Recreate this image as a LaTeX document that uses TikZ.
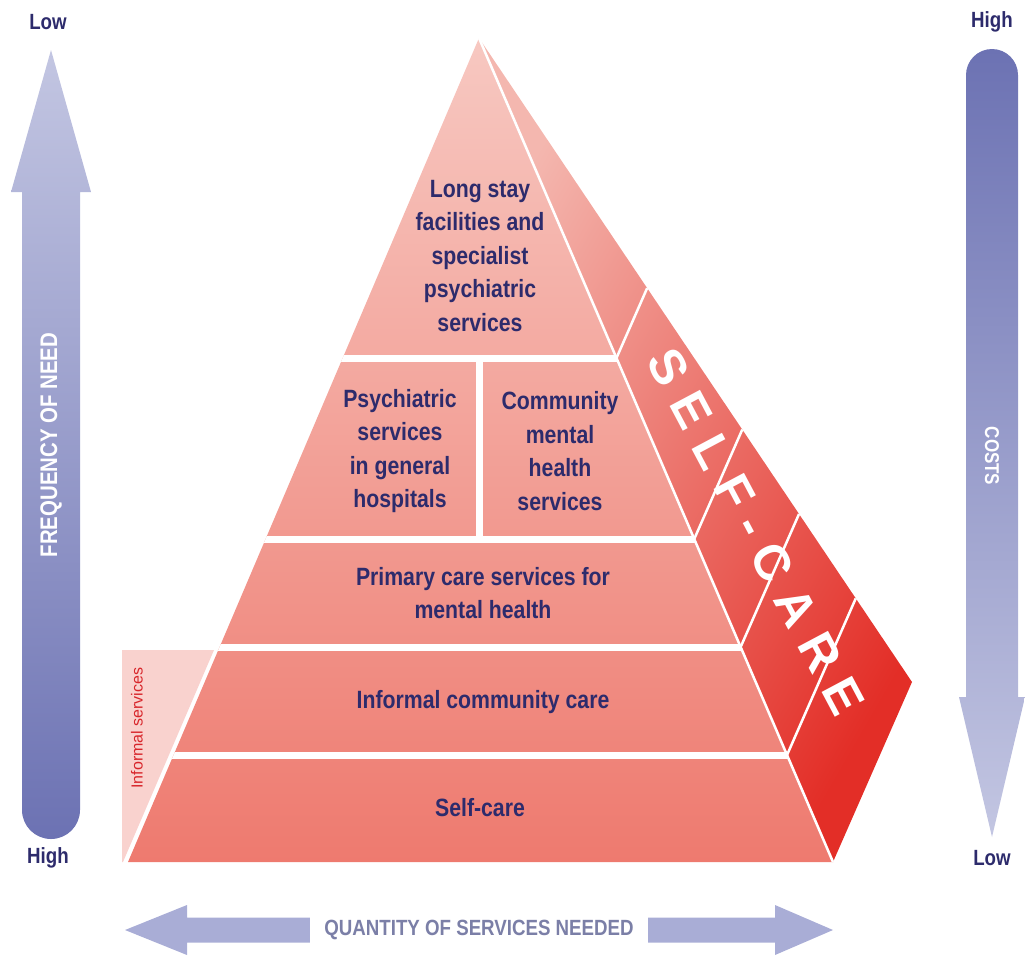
\documentclass[tikz,border=0pt]{standalone}
\usepackage{fontspec}
\setmainfont{Liberation Sans}[FakeStretch=0.85]
\newfontfamily\widesans{Liberation Sans}
\newfontfamily\spacedsans{Liberation Sans}[LetterSpace=30]
\usepackage{tikz}
\usetikzlibrary{calc}
\definecolor{navy}{HTML}{2D2B6C}
\definecolor{pyrtop}{HTML}{F7C8C1}
\definecolor{pyrbot}{HTML}{EE7A6F}
\definecolor{sidetop}{HTML}{F4B7AF}
\definecolor{sidered}{HTML}{E32E27}
\definecolor{informalbg}{HTML}{F9D2CE}
\definecolor{informaltext}{HTML}{D8262B}
\definecolor{arrowlight}{HTML}{C3C6E2}
\definecolor{arrowdark}{HTML}{6C72B3}
\definecolor{arrowmid}{HTML}{A9ADD6}
\definecolor{axistext}{HTML}{7B7FA7}
\tikzset{
  layertext/.style={text=navy,font=\fontsize{25}{33.5}\selectfont\bfseries,align=center},
  endlabel/.style={text=navy,font=\fontsize{22}{24}\selectfont\bfseries},
  axislabel/.style={text=white,font=\fontsize{24}{26}\selectfont\bfseries},
  gapline/.style={white,line width=7pt},
  edgeline/.style={white,line width=2.5pt},
  sidetext/.style={text=white,font=\spacedsans\fontsize{50}{50}\selectfont\bfseries,rotate=-62,inner sep=0pt}
}
\begin{document}
\begin{tikzpicture}[x=1pt,y=-1pt]
\useasboundingbox (0,0) rectangle (1025,956);
% informal services strip
\fill[informalbg] (122,650) -- (214,650) -- (123,862) -- (122,862) -- cycle;
\node[rotate=90,text=informaltext,font=\widesans\fontsize{16}{16}\selectfont] (informal) at (137,728) {Informal services};
% pyramid
\coordinate (apex) at (479,38);
\coordinate (baseL) at (128,862);
\coordinate (baseR) at (833,862);
\coordinate (back) at (912,682);
\shade[top color=pyrtop,bottom color=pyrbot] (apex) -- (baseR) -- (baseL) -- cycle;
\shade[top color=sidetop,bottom color=sidered,shading angle=60] (apex) -- (back) -- (baseR) -- cycle;
\begin{scope}
  \clip (apex) -- (baseR) -- (baseL) -- cycle;
  \foreach \y in {358,539,647,755}
    \draw[gapline] (100,\y) -- (900,\y);
  \draw[gapline] (479.5,358) -- (479.5,539);
\end{scope}
\foreach \y in {358,539,647,755}
  \draw[edgeline] ($(apex)!{(\y-38)/824}!(baseR)$) -- ($(apex)!{(\y-38)/824}!(back)$);
\draw[edgeline] (apex) -- (baseR);
\node[layertext] (longstay) at (480,256) {Long stay\\facilities and\\specialist\\psychiatric\\services};
\node[layertext] (psychiatric) at (400,451) {Psychiatric\\services\\in general\\hospitals};
\node[layertext] (community) at (560,451) {Community\\mental\\health\\services};
\node[layertext] (primary) at (483,593) {Primary care services for\\mental health};
\node[layertext] (informalcare) at (483,702) {Informal community care};
\node[layertext] (selfcare) at (480,808) {Self-care};
\node[sidetext] (selfcareside) at (756,532) {SELF-CARE};
% frequency arrow
\shade[top color=arrowlight,bottom color=arrowdark] (51,50) -- (91,192) -- (80,192) -- (80,810)
  arc[start angle=0,end angle=180,radius=29] -- (22,192) -- (11,192) -- cycle;
\node[axislabel,rotate=90] (frequency) at (51,445) {FREQUENCY OF NEED};
\node[endlabel] (freqlow) at (48,22) {Low};
\node[endlabel] (freqhigh) at (48,858) {High};
% costs arrow
\shade[top color=arrowdark,bottom color=arrowlight] (966,697) -- (966,75)
  arc[start angle=180,end angle=360,radius=26] -- (1018,697) -- (1025,697) -- (992,837) -- (959,697) -- cycle;
\node[axislabel,rotate=-90,font=\fontsize{20}{22}\selectfont\bfseries] (costs) at (992,456) {COSTS};
\node[endlabel] (costhigh) at (992,22) {High};
\node[endlabel] (costlow) at (992,858) {Low};
% quantity arrow
\fill[arrowmid] (125,930) -- (187,905) -- (187,917.5) -- (775,917.5) -- (775,905) -- (833,930)
  -- (775,955) -- (775,942.5) -- (187,942.5) -- (187,955) -- cycle;
\node[fill=white,text=axistext,font=\fontsize{22}{24}\selectfont\bfseries,inner xsep=14pt] (quantity) at (479,930) {QUANTITY OF SERVICES NEEDED};
\end{tikzpicture}
\end{document}
